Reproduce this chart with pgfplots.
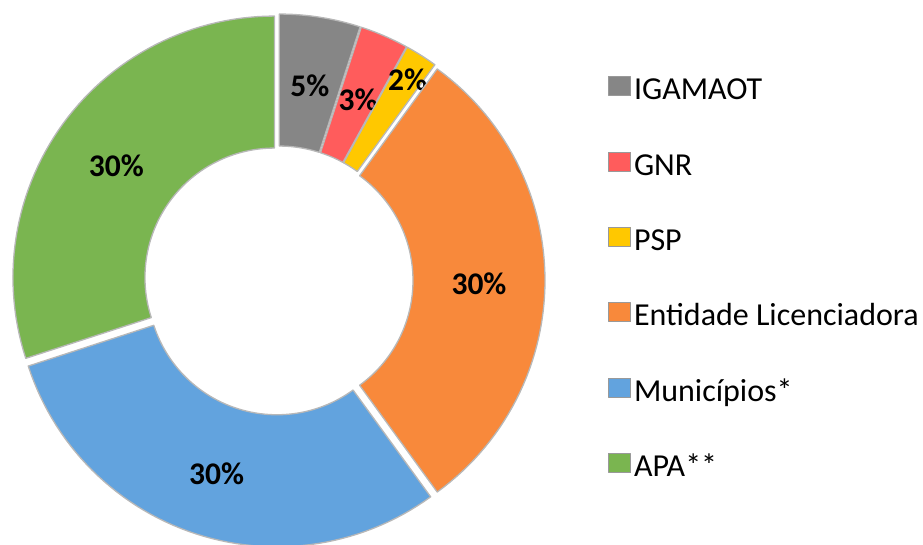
\documentclass[border=0pt]{standalone}
\usepackage{pgfplots}
\pgfplotsset{compat=1.18}
\usepackage{fontspec}
\setmainfont{Carlito}
\definecolor{cGray}{HTML}{868686}
\definecolor{cRed}{HTML}{FF5C5C}
\definecolor{cYellow}{HTML}{FFC800}
\definecolor{cOrange}{HTML}{F8893B}
\definecolor{cBlue}{HTML}{62A3DE}
\definecolor{cGreen}{HTML}{7AB550}
\newcommand\cx{278.5}
\newcommand\cy{263.5}
\newcommand\Ro{261.5}
\newcommand\Ri{129.5}
\newcommand\bigfont{\fontsize{31.5}{36}\selectfont}
\newcommand\legfont{\fontsize{32}{36}\selectfont}
\tikzset{lbl/.style={font=\bigfont\bfseries, inner sep=0pt}}
% #1 start (percent), #2 value (percent), #3 colour, #4 explosion, #5 label, #6 label radius
\newcommand{\donutslice}[6]{%
  \pgfmathsetmacro\aS{90-3.6*#1}%
  \pgfmathsetmacro\aE{90-3.6*(#1+#2)}%
  \pgfmathsetmacro\aM{(\aS+\aE)/2}%
  \pgfmathsetmacro\ox{\cx+#4*cos(\aM)}%
  \pgfmathsetmacro\oy{\cy+#4*sin(\aM)}%
  \pgfmathsetmacro\lx{\ox+#6*cos(\aM)}%
  \pgfmathsetmacro\ly{\oy+#6*sin(\aM)-3}%
  \edef\doplot{\noexpand\addplot[fill=#3, draw=black!28, line width=1.3pt, line join=round,
      domain=0:2, samples=121, variable=\noexpand\t]
    ({\ox + ((\noexpand\t<1.005) ? \Ro*cos(\aS+(\aE-\aS)*\noexpand\t) : \Ri*cos(\aE+(\aS-\aE)*(\noexpand\t-1-1/60)/(1-1/60)))},
     {\oy + ((\noexpand\t<1.005) ? \Ro*sin(\aS+(\aE-\aS)*\noexpand\t) : \Ri*sin(\aE+(\aS-\aE)*(\noexpand\t-1-1/60)/(1-1/60)))}) -- cycle;
    \noexpand\node[lbl] at (axis cs:\lx,\ly) {#5};}%
  \doplot
}
\begin{document}
\begin{tikzpicture}
\begin{axis}[
  scale only axis, width=923pt, height=544pt,
  xmin=0, xmax=923, ymin=0, ymax=544,
  hide axis, clip=true,
  legend style={at={(axis cs:608,468)}, anchor=north west, draw=none, fill=none,
    font=\legfont, inner sep=0pt, row sep=43pt,
    nodes={inner sep=3pt, text height=20pt, text depth=6pt}},
  legend cell align=left,
  legend image code/.code={\draw[#1, draw=black!40, line width=0.8pt] (0pt,-3pt) rectangle (22pt,16pt);},
]
\donutslice{0}{5}{cGray}{5}{5\%}{195.5}
\donutslice{5}{3}{cRed}{5}{3\%}{195.5}
\donutslice{8}{2}{cYellow}{5}{2\%}{236}
\donutslice{10}{30}{cOrange}{5}{30\%}{195.5}
\donutslice{40}{30}{cBlue}{5}{30\%}{195.5}
\donutslice{70}{30}{cGreen}{5}{30\%}{195.5}
\legend{IGAMAOT, GNR, PSP, Entidade Licenciadora, Municípios*, APA**}
\end{axis}
\pgfresetboundingbox
\useasboundingbox (current axis.south west) rectangle (current axis.north east);
\end{tikzpicture}
\end{document}
